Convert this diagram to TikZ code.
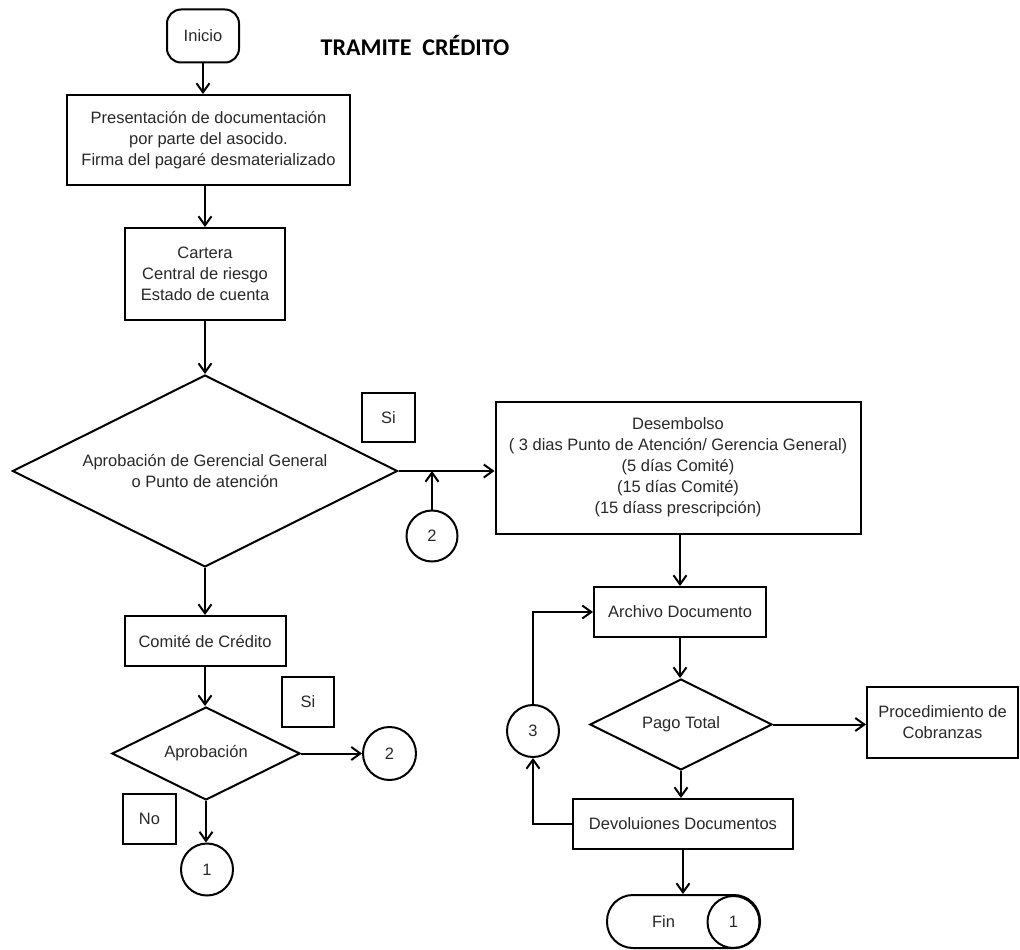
\documentclass[tikz,border=0pt]{standalone}
\usepackage{fontspec}
\setmainfont{Liberation Sans}
\newfontfamily\titlefont{Carlito}
\usetikzlibrary{arrows.meta,shapes.geometric}
\definecolor{txt}{RGB}{40,40,40}
\begin{document}
\begin{tikzpicture}[x=1pt,y=-1pt,
  every node/.style={font=\fontsize{16.5}{21}\selectfont, text=txt, align=center, inner sep=0pt},
  box/.style={draw, line width=2pt, rectangle},
  dia/.style={draw, line width=2pt, diamond, aspect=2},
  conn/.style={draw, line width=2pt, circle},
  arr/.style={line width=2pt, -{Straight Barb[length=9pt,width=13pt,line width=2pt]}},
  ln/.style={line width=2pt}]
\useasboundingbox (0,0) rectangle (1020,950);
% left column
\node[box, rounded corners=14pt, minimum width=72pt, minimum height=53pt] (inicio) at (203,36) {Inicio};
\node[font=\titlefont\bfseries\fontsize{24}{28}\selectfont, text=black] (title) at (415,46) {TRAMITE\ \ CRÉDITO};
\node[box, minimum width=283pt, minimum height=90pt] (b1) at (208.5,140) {Presentación de documentación\\por parte del asocido.\\Firma del pagaré desmaterializado};
\node[box, minimum width=160pt, minimum height=92pt] (b2) at (205,274) {Cartera\\Central de riesgo\\Estado de cuenta};
\node[dia, minimum width=385pt, minimum height=192pt] (d1) at (205,471) {Aprobación de Gerencial General\\o Punto de atención};
\node[box, minimum width=53pt, minimum height=49pt] (si1) at (388.5,417.5) {Si};
\node[conn, minimum size=51pt] (c2a) at (432,536) {2};
\node[box, minimum width=161pt, minimum height=50pt] (com) at (205,641) {Comité de Crédito};
\node[dia, minimum width=188pt, minimum height=93pt] (d2) at (206,753.5) {Aprobación};
\node[box, minimum width=52pt, minimum height=50pt] (si2) at (308,702) {Si};
\node[conn, minimum size=53pt] (c2b) at (389.5,753.5) {2};
\node[box, minimum width=53pt, minimum height=50pt] (no) at (149.5,819) {No};
\node[conn, minimum size=52pt] (c1) at (207,869.5) {1};
% right column
\node[box, minimum width=365pt, minimum height=132pt] (des) at (678,467.5) {Desembolso\\( 3 dias Punto de Atención/ Gerencia General)\\(5 días Comité)\\(15 días Comité)\\(15 díass prescripción)};
\node[box, minimum width=172pt, minimum height=50pt] (arch) at (680,612) {Archivo Documento};
\node[dia, minimum width=182pt, minimum height=91pt] (pago) at (681,724.5) {Pago Total};
\node[box, minimum width=151pt, minimum height=71pt] (proc) at (942.5,722.5) {Procedimiento de\\Cobranzas};
\node[box, minimum width=220pt, minimum height=50pt] (dev) at (683,824) {Devoluiones Documentos};
\node[conn, minimum size=52pt] (c3) at (533,731) {3};
\node[box, rounded corners=26pt, minimum width=153pt, minimum height=53pt] (fin) at (683.5,921.5) {Fin\hspace{40pt}};
\node[conn, minimum size=52pt] (fin1) at (733.5,922) {1};
% connectors
\draw[arr] (inicio.south) -- (inicio.south |- b1.north);
\draw[arr] (b2.north |- b1.south) -- (b2.north);
\draw[arr] (b2.south) -- (d1.north);
\draw[arr] (d1.east) -- (d1.east -| des.west);
\draw[arr] (c2a.north) -- (c2a.north |- d1.east);
\draw[arr] (d1.south) -- (com.north);
\draw[arr] (com.south) -- (com.south |- d2.north);
\draw[arr] (d2.east) -- (c2b.west);
\draw[arr] (d2.south) -- (d2.south |- c1.north);
\draw[arr] (arch.north |- des.south) -- (arch.north);
\draw[arr] (arch.south) -- (arch.south |- pago.north);
\draw[arr] (pago.east) -- (pago.east -| proc.west);
\draw[arr] (pago.south) -- (pago.south |- dev.north);
\draw[arr] (dev.west) -| (c3.south);
\draw[arr] (c3.north) |- (arch.west);
\draw[arr] (dev.south) -- (dev.south |- fin.north);
\end{tikzpicture}
\end{document}
